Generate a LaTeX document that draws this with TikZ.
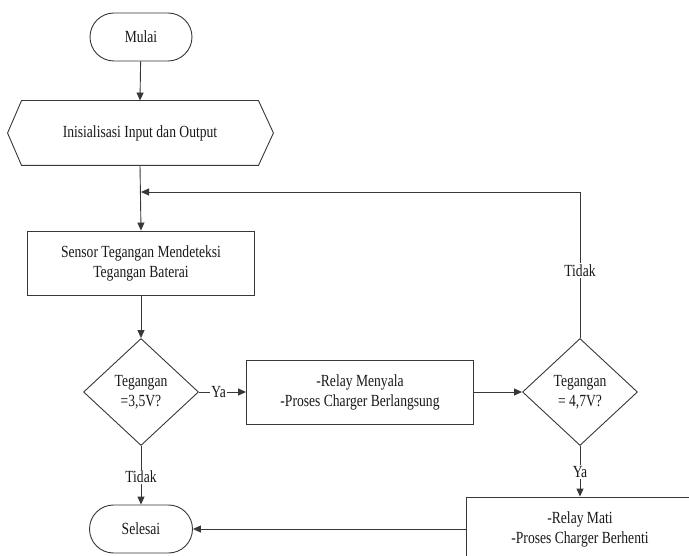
\documentclass[tikz,border=0pt]{standalone}
\usepackage{fontspec}
\setmainfont{Liberation Serif}
\newfontfamily\narrowserif{Liberation Serif}[FakeStretch=0.8]
\usetikzlibrary{arrows.meta,shapes.geometric,calc}
\begin{document}
\begin{tikzpicture}[x=1pt,y=-1pt,
  line width=0.9pt,
  every node/.style={font=\narrowserif\fontsize{17}{20}\selectfont, text=black!90, align=center},
  term/.style={draw=black!78, rounded corners=24pt, minimum width=102pt, minimum height=48pt, inner sep=0pt},
  proc/.style={draw=black!78, minimum width=227pt, minimum height=64pt, inner sep=0pt},
  dec/.style={draw=black!78, diamond, minimum width=115pt, minimum height=107pt, inner sep=0pt},
  conn/.style={draw=black!78, -{Triangle[length=8pt,width=7pt]}},
  lbl/.style={fill=white, inner sep=1.5pt}]
\useasboundingbox (0,0) rectangle (689,556);
\fill[white] (0,0) rectangle (689,556);
\clip (0,0) rectangle (689,556);

% terminals and steps
\node[term] (start) at (141,37) {Mulai};
\node[minimum width=236pt, minimum height=64pt, inner sep=0pt] (init) at (140,133) {Inisialisasi Input dan Output};
\draw[black!78] (init.north west) -- (init.north east) -- ($(init.east)+(15,0)$)
  -- (init.south east) -- (init.south west) -- ($(init.west)+(-14,0)$) -- cycle;
\node[proc] (sensor) at (141,263) {Sensor Tegangan Mendeteksi\\Tegangan Baterai};
\node[dec] (d1) at (141,392) {Tegangan\\=3,5V?};
\node[proc] (r1) at (360,392) {-Relay Menyala\\-Proses Charger Berlangsung};
\node[dec] (d2) at (580,392) {Tegangan\\= 4,7V?};
\node[proc] (r2) at (580,529) {-Relay Mati\\-Proses Charger Berhenti};
\node[term, minimum width=103pt] (stop) at (141,529) {Selesai};

\coordinate (loopc) at (580,192);
\coordinate (merge) at (141,192);

% connectors
\draw[conn] (start) -- (init.north);
\draw[conn] (init.south) -- (sensor.north);
\draw[conn] (sensor) -- (d1);
\draw[conn] (d1) -- node[lbl, pos=0.42] {Ya} (r1);
\draw[conn] (d1) -- node[lbl, pos=0.53] {Tidak} (stop);
\draw[conn] (r1) -- (d2);
\draw[conn] (d2.north) -- node[lbl, pos=0.46] {Tidak} (loopc) -- (merge);
\draw[conn] (d2) -- node[lbl, pos=0.52] {Ya} (r2);
\draw[conn] (r2.west) -- (stop.east);
\end{tikzpicture}
\end{document}
